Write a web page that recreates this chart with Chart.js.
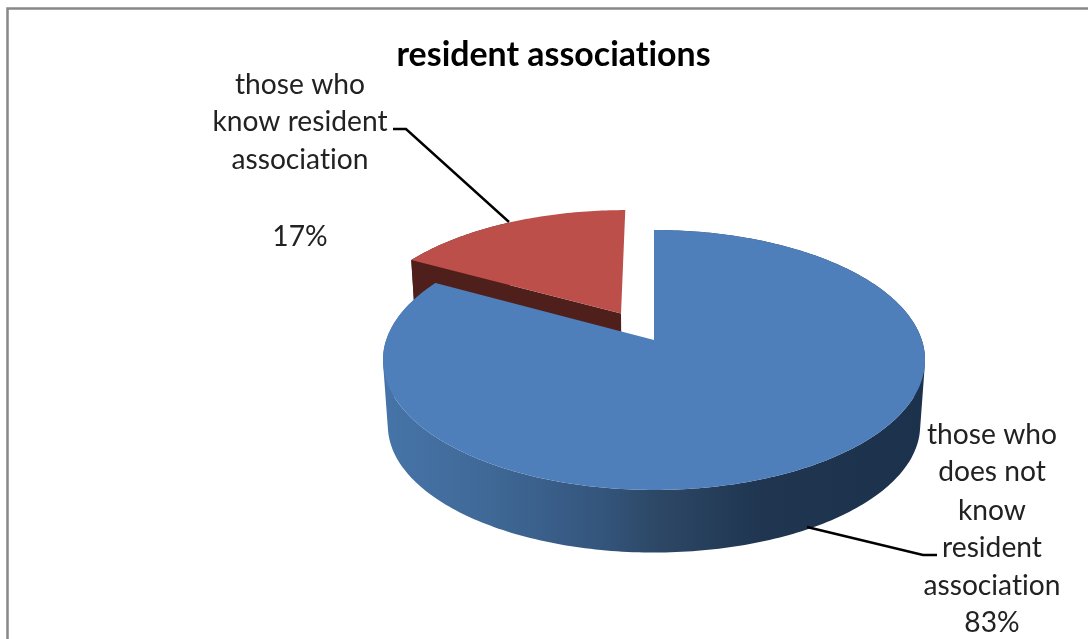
<!DOCTYPE html>
<html>
<head>
<meta charset="utf-8">
<title>resident associations</title>
<script src="https://cdn.jsdelivr.net/npm/chart.js@4"></script>
<style>
  html, body { margin: 0; padding: 0; background: #fff; overflow: hidden; }
  canvas { display: block; }
</style>
</head>
<body>
<canvas id="myChart" width="1088" height="639"></canvas>
<script>
var chartTitle = 'resident associations'
var categories = ['those who does not know resident association', 'those who know resident association']
var shares = [83, 17]
var labelLines = [
    ['those who', 'does not', 'know', 'resident', 'association'],
    ['those who', 'know resident', 'association', '']
]

var sliceColors = ['#4e7fbb', '#bd4f4b']
var textFont = '28.2px Lato'

// the disc is seen in perspective, so a plain scale is not enough
var view = { cx: 654, k: 0.1538, top: { a: 267.8, b: 126.9, cy: 340 }, bottom: { a: 263, b: 124, cy: 406 } }

function project(u, v, face) {
    var w = 1 - view.k * v
    return { x: view.cx + face.a * u / w, y: face.cy + face.b * v / w }
}

// unit disc position of a slice, pushed out by the library's offset option
function sliceGeometry(arc) {
    var r = arc.outerRadius
    var mid = (arc.startAngle + arc.endAngle) / 2
    var off = (arc.options.offset || 0) / r
    return { start: arc.startAngle, end: arc.endAngle, u0: Math.cos(mid) * off, v0: Math.sin(mid) * off }
}

function rimPoints(g, face) {
    var pts = []
    var steps = Math.ceil((g.end - g.start) / (Math.PI / 180))
    for (var i = 0; i <= steps; i++) {
        var a = g.start + (g.end - g.start) * i / steps
        pts.push(project(g.u0 + Math.cos(a), g.v0 + Math.sin(a), face))
    }
    return pts
}

function addPoly(ctx, pts) {
    pts.forEach(function (p, i) {
        if (i === 0) ctx.moveTo(p.x, p.y)
        else ctx.lineTo(p.x, p.y)
    })
    ctx.closePath()
}

function fillPoints(ctx, pts, fill) {
    ctx.beginPath()
    addPoly(ctx, pts)
    ctx.fillStyle = fill
    ctx.fill()
}

function signedArea(pts) {
    var s = 0
    pts.forEach(function (p, i) {
        var q = pts[(i + 1) % pts.length]
        s += p.x * q.y - q.x * p.y
    })
    return s
}

// outer wall as one path of small quads, all wound the same way so overlaps do not cancel
function fillWall(ctx, g, fill) {
    var rimT = rimPoints(g, view.top)
    var rimB = rimPoints(g, view.bottom)
    ctx.beginPath()
    for (var i = 0; i < rimT.length - 1; i++) {
        var quad = [rimT[i], rimT[i + 1], rimB[i + 1], rimB[i]]
        if (signedArea(quad) < 0) quad.reverse()
        addPoly(ctx, quad)
    }
    ctx.fillStyle = fill
    ctx.fill()
}

function drawTop(ctx, g, color) {
    var apex = project(g.u0, g.v0, view.top)
    fillPoints(ctx, [apex].concat(rimPoints(g, view.top)), color)
}

function drawRedWalls(ctx, g, color) {
    var apexT = project(g.u0, g.v0, view.top)
    var apexB = project(g.u0, g.v0, view.bottom)
    var rimT = rimPoints(g, view.top)
    var rimB = rimPoints(g, view.bottom)
    // only the left part of the rim can show, the rest sits behind the top face
    fillWall(ctx, { start: g.start, end: (g.start + g.end) / 2, u0: g.u0, v0: g.v0 }, color)
    fillPoints(ctx, [apexT, rimT[0], rimB[0], apexB], color)
}

function drawBlueWall(ctx, g) {
    var grad = ctx.createLinearGradient(385, 0, 925, 0)
    grad.addColorStop(0, '#4674a8')
    grad.addColorStop(0.2, '#3f6896')
    grad.addColorStop(0.4, '#34557c')
    grad.addColorStop(0.5, '#2d4866')
    grad.addColorStop(0.7, '#1f3550')
    grad.addColorStop(1, '#1c314c')
    fillWall(ctx, g, grad)
}

function leader(ctx, pts) {
    ctx.beginPath()
    pts.forEach(function (p, i) {
        if (i === 0) ctx.moveTo(p[0], p[1])
        else ctx.lineTo(p[0], p[1])
    })
    ctx.strokeStyle = '#000'
    ctx.lineWidth = 2.4
    ctx.stroke()
}

function textBlock(ctx, lines, x, ys) {
    ctx.font = textFont
    ctx.fillStyle = '#222'
    ctx.textAlign = 'center'
    ctx.textBaseline = 'middle'
    lines.forEach(function (t, i) {
        if (t) ctx.fillText(t, x, ys[i])
    })
}

var pie3d = {
    id: 'pie3d',
    beforeDraw: function (chart) {
        var ctx = chart.ctx
        // keeps the "ti" of the font from joining up
        ctx.letterSpacing = '0.01px'
        ctx.save()
        ctx.strokeStyle = '#888'
        ctx.lineWidth = 2.5
        ctx.strokeRect(7.5, 8.5, 1200, 800)
        ctx.restore()
    },
    beforeDatasetDraw: function (chart, args) {
        var ctx = chart.ctx
        var arcs = args.meta.data
        var blue = sliceGeometry(arcs[0])
        var red = sliceGeometry(arcs[1])
        ctx.save()
        drawRedWalls(ctx, red, '#4f1f1c')
        drawTop(ctx, red, sliceColors[1])
        drawBlueWall(ctx, blue)
        drawTop(ctx, blue, sliceColors[0])
        ctx.restore()
        return false
    },
    afterDatasetsDraw: function (chart) {
        var ctx = chart.ctx
        ctx.save()
        leader(ctx, [[393, 129], [406, 129], [509, 222]])
        leader(ctx, [[807, 527], [923, 555], [937, 555]])
        textBlock(ctx, labelLines[1].concat(shares[1] + '%'), 300, [85, 122, 160, 198, 237])
        textBlock(ctx, labelLines[0].concat(shares[0] + '%'), 992, [435, 472, 511, 548, 586, 623])
        ctx.restore()
    }
}

new Chart(document.getElementById('myChart'), {
    type: 'pie',
    data: {
        labels: categories,
        datasets: [{
            data: shares,
            backgroundColor: sliceColors,
            borderWidth: 0,
            offset: [0, 50]
        }]
    },
    options: {
        responsive: false,
        animation: false,
        radius: 200,
        layout: { padding: { left: 19 } },
        plugins: {
            legend: { display: false },
            tooltip: { enabled: false },
            title: {
                display: true,
                text: chartTitle,
                color: '#000',
                font: { family: 'Lato', size: 33.9, weight: 'bold', lineHeight: 1.2 },
                padding: { top: 35, bottom: 10 }
            }
        }
    },
    plugins: [pie3d]
})
</script>
</body>
</html>
